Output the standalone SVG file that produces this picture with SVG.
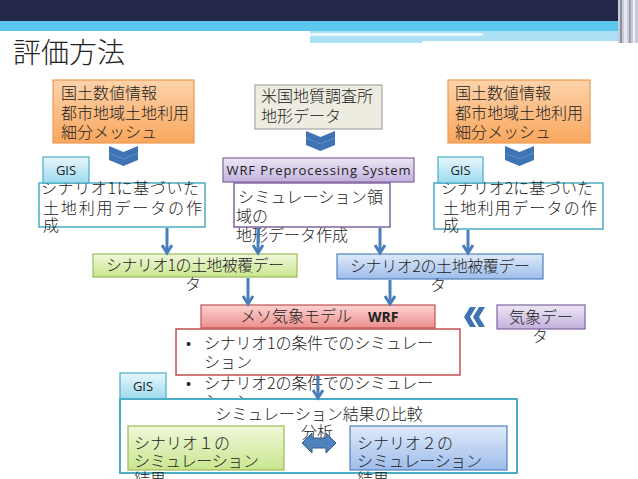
<svg xmlns="http://www.w3.org/2000/svg" width="638" height="479" viewBox="0 0 638 479">
<defs>
<linearGradient id="gOr" x1="0" y1="0" x2="0" y2="1"><stop offset="0" stop-color="#fdd3aa"/><stop offset="1" stop-color="#f9a75e"/></linearGradient>
<linearGradient id="gGis" x1="0" y1="0" x2="0" y2="1"><stop offset="0" stop-color="#e6f7fc"/><stop offset="1" stop-color="#9ddbee"/></linearGradient>
<linearGradient id="gPu" x1="0" y1="0" x2="0" y2="1"><stop offset="0" stop-color="#ede6f5"/><stop offset="1" stop-color="#c2b1dd"/></linearGradient>
<linearGradient id="gGr" x1="0" y1="0" x2="0" y2="1"><stop offset="0" stop-color="#f0f8da"/><stop offset="1" stop-color="#c9e68e"/></linearGradient>
<linearGradient id="gBl" x1="0" y1="0" x2="0" y2="1"><stop offset="0" stop-color="#dfeafa"/><stop offset="1" stop-color="#9ebdeb"/></linearGradient>
<linearGradient id="gRd" x1="0" y1="0" x2="0" y2="1"><stop offset="0" stop-color="#fcd3d2"/><stop offset="1" stop-color="#ec8f8d"/></linearGradient>
<marker id="ah" markerUnits="userSpaceOnUse" markerWidth="14" markerHeight="12" refX="10" refY="6" orient="auto">
<path d="M2,1 L10,6 L2,11" fill="none" stroke="#4a7ebb" stroke-width="3"/>
</marker>
<path id="chevD" d="M0,0 L14.5,6 L29,0 L29,7 L14.5,13 L0,7 Z"/>
<path id="chevL" d="M0,0 L-6,10 L0,20 L6,20 L0,10 L6,0 Z"/>
</defs>
<style>
text{font-family:"Noto Sans CJK JP","Noto Sans",sans-serif;font-size:16px;fill:#222;font-weight:300}
.lat{font-family:"Open Sans","Noto Sans","Liberation Sans",sans-serif;font-weight:500;font-size:13px}
.wps{font-weight:400}
.b{font-weight:700}
.c{text-anchor:middle}
.ti{font-size:28px;font-weight:300}
.ln{stroke:#4a7ebb;stroke-width:3;fill:none;marker-end:url(#ah)}
.chev{fill:#3e73b4}
</style>
<rect width="638" height="479" fill="#fff"/>
<g id="header">
<rect x="0" y="0" width="638" height="21" fill="#232848"/>
<rect x="0" y="21" width="638" height="10" fill="#5bc7ef"/>
<rect x="310" y="31" width="310" height="12" fill="#ace0f5"/>
<rect x="310" y="33" width="173" height="3" fill="#eaf7fd"/>
<rect x="422" y="41" width="198" height="2" fill="#fff"/>
<rect x="618" y="0" width="20" height="43" fill="#c9ccd6"/>
<rect x="620" y="0" width="2" height="43" fill="#8a8ea4"/>
<rect x="624" y="0" width="3" height="43" fill="#e6e8ee"/>
<rect x="629" y="0" width="2" height="43" fill="#9da1b5"/>
<rect x="633" y="0" width="2" height="43" fill="#eef0f4"/>
<text x="13" y="63" class="ti">評価方法</text>
</g>
<g id="n-orange1">
<rect x="53" y="80" width="141" height="63" fill="url(#gOr)" stroke="#ee9a52" stroke-width="1.2"/>
<text x="61" y="99">国土数値情報</text>
<text x="61" y="119">都市地域土地利用</text>
<text x="61" y="138">細分メッシュ</text>
</g>
<g id="n-usgs">
<rect x="255" y="85" width="127" height="44" fill="#eeece1" stroke="#a6a6a6" stroke-width="1.2"/>
<text x="261" y="102">米国地質調査所</text>
<text x="261" y="122">地形データ</text>
</g>
<g id="n-orange2">
<rect x="448" y="80" width="142" height="63" fill="url(#gOr)" stroke="#ee9a52" stroke-width="1.2"/>
<text x="455" y="99">国土数値情報</text>
<text x="455" y="119">都市地域土地利用</text>
<text x="455" y="138">細分メッシュ</text>
</g>
<g id="chevrons-down" class="chev">
<use href="#chevD" x="109" y="146"/><use href="#chevD" x="109" y="153"/>
<use href="#chevD" x="306" y="131"/><use href="#chevD" x="306" y="138"/>
<use href="#chevD" x="505" y="146"/><use href="#chevD" x="505" y="153"/>
</g>
<g id="n-scen1">
<rect x="39" y="183" width="166" height="44" fill="#fff" stroke="#4bacc6" stroke-width="1.5"/>
<text x="41" y="194" textLength="158">シナリオ1に基づいた</text>
<text x="43" y="214" textLength="159">土地利用データの作</text>
<text x="43" y="231">成</text>
</g>
<g id="n-gis1">
<rect x="43" y="157" width="46" height="26" fill="url(#gGis)" stroke="#4bacc6" stroke-width="1.2"/>
<text x="66" y="175" class="lat c">GIS</text>
</g>
<g id="n-sim">
<rect x="234" y="183" width="156" height="44" fill="#fff" stroke="#8064a2" stroke-width="1.5"/>
<text x="238" y="203" textLength="145">シミュレーション領</text>
<text x="236" y="222">域の</text>
<text x="236" y="241">地形データ作成</text>
</g>
<g id="n-wps">
<rect x="223" y="158" width="191" height="24" fill="url(#gPu)" stroke="#8064a2" stroke-width="1.2"/>
<text x="318.5" y="175" class="lat wps c" textLength="184">WRF Preprocessing System</text>
</g>
<g id="n-scen2">
<rect x="434" y="183" width="169" height="46" fill="#fff" stroke="#4bacc6" stroke-width="1.5"/>
<text x="441" y="194" textLength="152">シナリオ2に基づいた</text>
<text x="443" y="214" textLength="154">土地利用データの作</text>
<text x="443" y="231">成</text>
</g>
<g id="n-gis2">
<rect x="438" y="157" width="45" height="26" fill="url(#gGis)" stroke="#4bacc6" stroke-width="1.2"/>
<text x="460.5" y="175" class="lat c">GIS</text>
</g>
<g id="n-land1">
<rect x="93" y="254" width="204" height="23" fill="url(#gGr)" stroke="#9bbb59" stroke-width="1.2"/>
<text x="195" y="271" class="c" textLength="178">シナリオ1の土地被覆デー</text>
<text x="193" y="290" class="c">タ</text>
</g>
<g id="n-land2">
<rect x="337" y="254" width="206" height="25" fill="url(#gBl)" stroke="#4f81bd" stroke-width="1.2"/>
<text x="440" y="272" class="c" textLength="180">シナリオ2の土地被覆デー</text>
<text x="438" y="291" class="c">タ</text>
</g>
<g id="n-wrf">
<rect x="201" y="305" width="234" height="23" fill="url(#gRd)" stroke="#c0504d" stroke-width="1.2"/>
<text x="240" y="322">メソ気象モデル</text>
<text x="368" y="322" class="lat b" style="font-size:14px">WRF</text>
</g>
<g id="n-weather">
<rect x="497" y="305" width="88" height="24" fill="url(#gPu)" stroke="#8064a2" stroke-width="1.2"/>
<text x="541" y="323" class="c">気象デー</text>
<text x="540" y="342" class="c">タ</text>
</g>
<g id="chevrons-left" class="chev">
<use href="#chevL" x="470" y="307"/><use href="#chevL" x="479" y="307"/>
</g>
<g id="n-sims">
<rect x="176" y="329" width="284" height="46" fill="#fff" stroke="#c0504d" stroke-width="1.5"/>
<text x="186" y="349">•</text>
<text x="204" y="349" textLength="229">シナリオ1の条件でのシミュレー</text>
<text x="204" y="368">ション</text>
<text x="186" y="389">•</text>
<text x="204" y="389" textLength="229">シナリオ2の条件でのシミュレー</text>
<text x="204" y="407">ション</text>
</g>
<g id="n-gis3">
<rect x="120" y="373" width="46" height="26" fill="url(#gGis)" stroke="#4bacc6" stroke-width="1.2"/>
<text x="143" y="391" class="lat c">GIS</text>
</g>
<g id="n-compare">
<rect x="120" y="399" width="397" height="74" fill="#fff" stroke="#4bacc6" stroke-width="2"/>
<text x="319" y="420" class="c">シミュレーション結果の比較</text>
<text x="317" y="438" class="c">分析</text>
</g>
<g id="n-res1">
<rect x="128" y="426" width="156" height="44" fill="url(#gGr)" stroke="#9bbb59" stroke-width="1.2"/>
<text x="134" y="449">シナリオ１の</text>
<text x="134" y="467" textLength="125">シミュレーション</text>
<text x="134" y="485">結果</text>
</g>
<g id="n-res2">
<rect x="350" y="426" width="157" height="44" fill="url(#gBl)" stroke="#4f81bd" stroke-width="1.2"/>
<text x="357" y="449">シナリオ２の</text>
<text x="357" y="467" textLength="125">シミュレーション</text>
<text x="357" y="485">結果</text>
</g>
<g id="connectors">
<line x1="167" y1="228" x2="167" y2="253" class="ln"/>
<line x1="258" y1="228" x2="258" y2="253" class="ln"/>
<line x1="380" y1="228" x2="380" y2="253" class="ln"/>
<line x1="468" y1="230" x2="468" y2="253" class="ln"/>
<line x1="248" y1="278" x2="248" y2="304" class="ln"/>
<line x1="390" y1="280" x2="390" y2="304" class="ln"/>
<line x1="318" y1="376" x2="318" y2="398" class="ln"/>
<path d="M302,443 L312,433 L312,438 L326,438 L326,433 L336,443 L326,453 L326,448 L312,448 L312,453 Z" fill="#4f81bd" stroke="#385d8a" stroke-width="1"/>
</g>
</svg>
